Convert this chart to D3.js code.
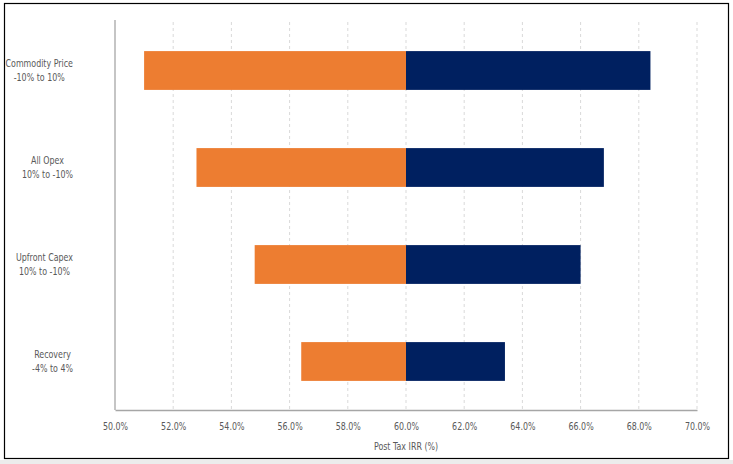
<!DOCTYPE html>
<html>
<head>
<meta charset="utf-8">
<script src="https://cdn.jsdelivr.net/npm/d3@7"></script>
<style>
  body { margin: 0; background: #fff; }
  svg { display: block; }
  text { font-family: 'DejaVu Sans', sans-serif; font-size: 11px; fill: #595959; }
</style>
</head>
<body>
<svg id="chart" width="733" height="464"></svg>
<script>
// tornado data, post tax IRR (%)
var categories = ["Commodity Price|-10% to 10%", "All Opex|10% to -10%", "Upfront Capex|10% to -10%", "Recovery|-4% to 4%"];
var baseCase = 60.0;
var lowValues = [51.0, 52.8, 54.8, 56.4];
var highValues = [68.4, 66.8, 66.0, 63.4];
var xTicks = [50, 52, 54, 56, 58, 60, 62, 64, 66, 68, 70];

var narrow = 0.72; // squeeze text horizontally, the original font is a narrow one

var svg = d3.select("#chart");
var margin = {top: 22, right: 36, bottom: 54, left: 115};
var w = 733 - margin.left - margin.right;
var h = 410 - margin.top;

// grey strip + outer frame
svg.append("rect").attr("x", 0).attr("y", 460).attr("width", 733).attr("height", 4).attr("fill", "#ececec");
svg.append("rect").attr("x", 4.5).attr("y", 3.5).attr("width", 724).attr("height", 455)
  .attr("fill", "#fff").attr("stroke", "#000").attr("stroke-width", 1.2);

var x = d3.scaleLinear().domain([50, 70]).range([0, w]);
var y = d3.scaleBand().domain(categories).range([0, h]).paddingInner(0.6).paddingOuter(0.3);

var g = svg.append("g").attr("transform", "translate(" + margin.left + "," + margin.top + ")");

// vertical grid
g.selectAll(".grid").data(xTicks.slice(1)).enter().append("line")
  .attr("x1", d => x(d)).attr("x2", d => x(d))
  .attr("y1", 0).attr("y2", h)
  .attr("stroke", "#d9d9d9").attr("stroke-dasharray", "3,3");

var rows = categories.map(function(c, i) { return {cat: c, lo: lowValues[i], hi: highValues[i]}; });

g.selectAll(".lo").data(rows).enter().append("rect")
  .attr("x", d => x(d.lo)).attr("width", d => x(baseCase) - x(d.lo))
  .attr("y", d => y(d.cat)).attr("height", y.bandwidth())
  .attr("fill", "#ED7D31");

g.selectAll(".hi").data(rows).enter().append("rect")
  .attr("x", x(baseCase)).attr("width", d => x(d.hi) - x(baseCase))
  .attr("y", d => y(d.cat)).attr("height", y.bandwidth())
  .attr("fill", "#002060");

// x axis
var xAxis = g.append("g").attr("transform", "translate(0," + h + ")")
  .call(d3.axisBottom(x).tickValues(xTicks).tickSize(0).tickPadding(12)
    .tickFormat(d => d.toFixed(1) + "%"));
xAxis.attr("font-family", null).attr("font-size", null);
xAxis.select(".domain").attr("stroke", "#a6a6a6").attr("stroke-width", 1.3);
xAxis.selectAll("text").attr("fill", null)
  .attr("transform", "scale(" + narrow + ",1)");

// y axis line
g.append("line").attr("x1", 0).attr("x2", 0).attr("y1", -2).attr("y2", h)
  .attr("stroke", "#a6a6a6").attr("stroke-width", 1.3);

// category labels: two centred lines, block right-aligned at x=73
var labels = g.selectAll(".cat").data(categories).enter().append("text")
  .attr("text-anchor", "middle");
labels.append("tspan").attr("x", 0).attr("dy", "-0.35em").text(d => d.split("|")[0]);
labels.append("tspan").attr("x", 0).attr("dy", "1.35em").text(d => d.split("|")[1]);
labels.each(function(d) {
  var maxW = 0;
  d3.select(this).selectAll("tspan").each(function() {
    maxW = Math.max(maxW, this.getComputedTextLength() * narrow);
  });
  d3.select(this).attr("transform", "translate(" + (-42 - maxW / 2) + "," + (y(d) + y.bandwidth() / 2) + ") scale(" + narrow + ",1)");
});

// axis title
svg.append("text")
  .attr("transform", "translate(" + (margin.left + x(60)) + ",450) scale(" + narrow + ",1)")
  .attr("text-anchor", "middle")
  .text("Post Tax IRR (%)");
</script>
</body>
</html>
